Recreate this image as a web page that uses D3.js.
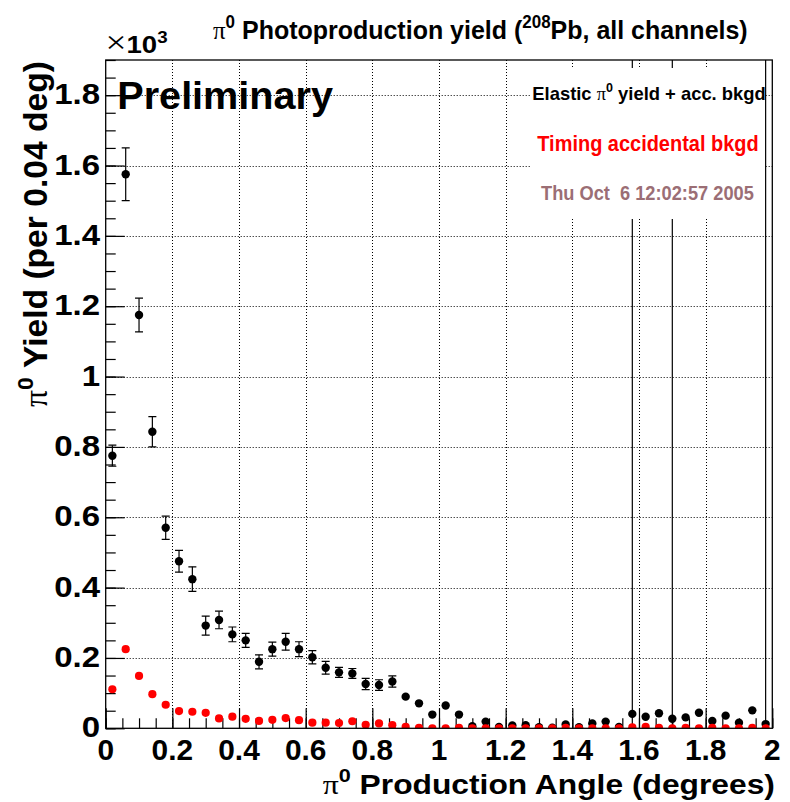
<!DOCTYPE html>
<html><head><meta charset="utf-8">
<script src="https://cdn.jsdelivr.net/npm/d3@7"></script>
<style>body{margin:0;background:#fff}svg{display:block}text{white-space:pre}</style>
</head><body>
<svg id="c" width="790" height="802"></svg>
<script>
// ---- data (yield in units of 10^3 per 0.04 deg) ----
const angles = [0.02,0.06,0.10,0.14,0.18,0.22,0.26,0.30,0.34,0.38,0.42,0.46,0.50,0.54,0.58,0.62,0.66,0.70,0.74,0.78,0.82,0.86,0.90,0.94,0.98,1.02,1.06,1.10,1.14,1.18,1.22,1.26,1.30,1.34,1.38,1.42,1.46,1.50,1.54,1.58,1.62,1.66,1.70,1.74,1.78,1.82,1.86,1.90,1.94,1.98];
const yieldTotal = [0.775,1.575,1.175,0.843,0.570,0.475,0.424,0.292,0.308,0.267,0.250,0.189,0.225,0.246,0.225,0.202,0.172,0.159,0.156,0.126,0.123,0.133,0.090,0.071,0.039,0.065,0.039,0.006,0.019,0.004,0.008,0.009,0.003,0.002,0.011,0.003,0.014,0.019,0.004,0.041,0.033,0.043,0.027,0.031,0.044,0.021,0.036,0.016,0.051,0.012];
const yieldErr = [0.030,0.075,0.048,0.043,0.033,0.031,0.035,0.027,0.025,0.021,0.020,0.020,0.020,0.024,0.021,0.019,0.018,0.014,0.014,0.016,0.015,0.016,0,0,0,0,0,0,0,0,0,0,0,0,0,0,0,0,0,2.2,0,0,2.2,0,0,0,0,0,0,2.2];
const accBkgd = [0.111,0.225,0.149,0.097,0.067,0.049,0.047,0.044,0.028,0.033,0.027,0.021,0.024,0.029,0.023,0.016,0.016,0.015,0.020,0.010,0.014,0.009,0.004,0.001,0,0,0.001,0,0,0,0,0,0,0,0.001,0,0,0,0,0.003,0.004,0.001,0,0.001,0,0.001,0,0,0.001,0];
const xTicks = [0,0.2,0.4,0.6,0.8,1.0,1.2,1.4,1.6,1.8,2.0];
const xTickLabels = ["0","0.2","0.4","0.6","0.8","1","1.2","1.4","1.6","1.8","2"];
const yTicks = [0,0.2,0.4,0.6,0.8,1.0,1.2,1.4,1.6,1.8];
const yTickLabels = ["0","0.2","0.4","0.6","0.8","1","1.2","1.4","1.6","1.8"];
const gridX = [0.2,0.4,0.6,0.8,1.0,1.2,1.4,1.6,1.8];
const gridY = [0.2,0.4,0.6,0.8,1.0,1.2,1.4,1.6,1.8];
const legendLines = ["Elastic", "Timing accidental bkgd", "Thu Oct  6 12:02:57 2005"];

const SANS = "'Liberation Sans', Arial, Helvetica, sans-serif";
const SERIF = "'Liberation Serif', 'DejaVu Serif', serif";
const svg = d3.select("#c");
const L = 105.7, R = 772.3, T = 60, B = 728.3;
const x = d3.scaleLinear().domain([0, 2]).range([L, R]);
const y = d3.scaleLinear().domain([0, 1.9]).range([B, T]);

svg.append("defs").append("clipPath").attr("id", "clip")
  .append("rect").attr("x", L).attr("y", T).attr("width", R - L).attr("height", B - T);

// grid
const gGrid = svg.append("g").attr("stroke", "#000").attr("stroke-width", 1).attr("stroke-dasharray", "1,2");
gGrid.selectAll("line.gx").data(gridX).join("line")
  .attr("x1", d => Math.round(x(d)) + 0.5).attr("x2", d => Math.round(x(d)) + 0.5).attr("y1", T).attr("y2", B);
gGrid.selectAll("line.gy").data(gridY).join("line")
  .attr("y1", d => Math.round(y(d)) + 0.5).attr("y2", d => Math.round(y(d)) + 0.5).attr("x1", L).attr("x2", R);

// axes ticks (inward, ROOT style)
const minorX = d3.range(0, 2.0001, 0.05);
const minorY = d3.range(0, 1.9001, 0.05);
svg.append("g").attr("transform", `translate(0,${B})`)
  .call(d3.axisBottom(x).tickValues(minorX).tickSize(-10).tickFormat(""))
  .call(g => g.select(".domain").remove());
svg.append("g").attr("transform", `translate(0,${B})`)
  .call(d3.axisBottom(x).tickValues(xTicks).tickSize(-20).tickFormat(""))
  .call(g => g.select(".domain").remove());
svg.append("g").attr("transform", `translate(${L},0)`)
  .call(d3.axisLeft(y).tickValues(minorY).tickSize(-10).tickFormat(""))
  .call(g => g.select(".domain").remove());
svg.append("g").attr("transform", `translate(${L},0)`)
  .call(d3.axisLeft(y).tickValues(yTicks).tickSize(-19).tickFormat(""))
  .call(g => g.select(".domain").remove());
svg.selectAll(".tick line").attr("stroke", "#000").attr("stroke-width", 1.2);

// data
const plot = svg.append("g").attr("clip-path", "url(#clip)");
const rows = angles.map((a, i) => ({a, v: yieldTotal[i], e: yieldErr[i], b: accBkgd[i]}));
const eb = plot.append("g").attr("stroke", "#000").attr("stroke-width", 1.2);
rows.filter(d => d.e > 0).forEach(d => {
  const xc = x(d.a);
  eb.append("line").attr("x1", xc).attr("x2", xc).attr("y1", y(d.v - d.e)).attr("y2", y(d.v + d.e));
  eb.append("line").attr("x1", xc - 4).attr("x2", xc + 4).attr("y1", y(d.v - d.e)).attr("y2", y(d.v - d.e));
  eb.append("line").attr("x1", xc - 4).attr("x2", xc + 4).attr("y1", y(d.v + d.e)).attr("y2", y(d.v + d.e));
});
plot.append("g").selectAll("circle").data(rows).join("circle")
  .attr("cx", d => x(d.a)).attr("cy", d => y(d.v)).attr("r", 4.2).attr("fill", "#000");

// legend box (covers grid and error bars)
svg.append("rect").attr("x", 530).attr("y", 68).attr("width", 234).attr("height", 151).attr("fill", "#fff");

plot.append("g").selectAll("circle").data(rows).join("circle")
  .attr("cx", d => x(d.a)).attr("cy", d => y(d.b)).attr("r", 4.1).attr("fill", "#ff0000");

// frame
svg.append("rect").attr("x", L).attr("y", T).attr("width", R - L).attr("height", B - T)
  .attr("fill", "none").attr("stroke", "#000").attr("stroke-width", 1.3);

// ---- text helper: fit a text horizontally between x0 and x1 ----
function richText(parent, parts, size, opts = {}) {
  const t = parent.append("text").attr("font-family", SANS).attr("font-weight", "bold")
    .attr("font-size", size).attr("fill", opts.fill || "#000");
  let shift = 0;
  parts.forEach(p => {
    const s = t.append("tspan").text(p.t);
    if (p.serif) s.attr("font-family", SERIF).attr("font-weight", "normal");
    if (p.normal) s.attr("font-weight", "normal");
    if (p.scale) s.attr("font-size", size * p.scale);
    const target = p.sup ? -0.42 * size : 0;
    if (p.sup) s.attr("font-size", size * 0.68);
    if (target !== shift) { s.attr("dy", target - shift); shift = target; }
  });
  return t;
}
function fit(parts, size, x0, x1, baseline, opts = {}) {
  const g = svg.append("g");
  const t = richText(g, parts, size, opts);
  const bb = t.node().getBBox();
  const sx = (x1 - x0) / bb.width;
  g.attr("transform", `translate(${x0 - bb.x * sx},${baseline}) scale(${sx},1)`);
  return g;
}

// title
fit([{t: "π", serif: true}, {t: "0", sup: true}, {t: " Photoproduction yield ("}, {t: "208", sup: true}, {t: "Pb, all channels)"}],
    26, 213, 748, 39);
// exponent
fit([{t: "×", serif: true, scale: 1.35}, {t: "10"}, {t: "3", sup: true}], 23, 105.5, 168, 53);
// Preliminary
fit([{t: "Preliminary"}], 38, 117.3, 333, 109);
// legend
fit([{t: legendLines[0] + " "}, {t: "π", serif: true}, {t: "0", sup: true}, {t: " yield + acc. bkgd"}], 18, 532.3, 766, 99.5);
fit([{t: legendLines[1]}], 21.5, 537.3, 758.7, 150.5, {fill: "#ff0000"});
fit([{t: legendLines[2]}], 20.5, 541, 754, 200, {fill: "#9b6e75"});

// x tick labels
xTicks.forEach((d, i) => {
  svg.append("text").attr("font-family", SANS).attr("font-weight", "bold").attr("font-size", 29)
    .attr("text-anchor", "middle")
    .attr("transform", `translate(${x(d)},${759.5}) scale(1.03,1)`).text(xTickLabels[i]);
});
// y tick labels
yTicks.forEach((d, i) => {
  svg.append("text").attr("font-family", SANS).attr("font-weight", "bold").attr("font-size", 30)
    .attr("text-anchor", "end")
    .attr("transform", `translate(100,${y(d) + 9}) scale(1.1,1)`).text(yTickLabels[i]);
});

// x axis title
fit([{t: "π", serif: true}, {t: "0", sup: true}, {t: " Production Angle (degrees)"}], 28, 322.7, 775, 794);

// y axis title (rotated)
{
  const g = svg.append("g");
  const t = richText(g, [{t: "π", serif: true}, {t: "0", sup: true}, {t: " Yield (per 0.04 deg)"}], 33);
  const bb = t.node().getBBox();
  const len = 407 - 61;
  const sx = len / bb.width;
  g.attr("transform", `translate(46.5,407) rotate(-90) scale(${sx},1) translate(${-bb.x},0)`);
}
</script>
</body></html>
